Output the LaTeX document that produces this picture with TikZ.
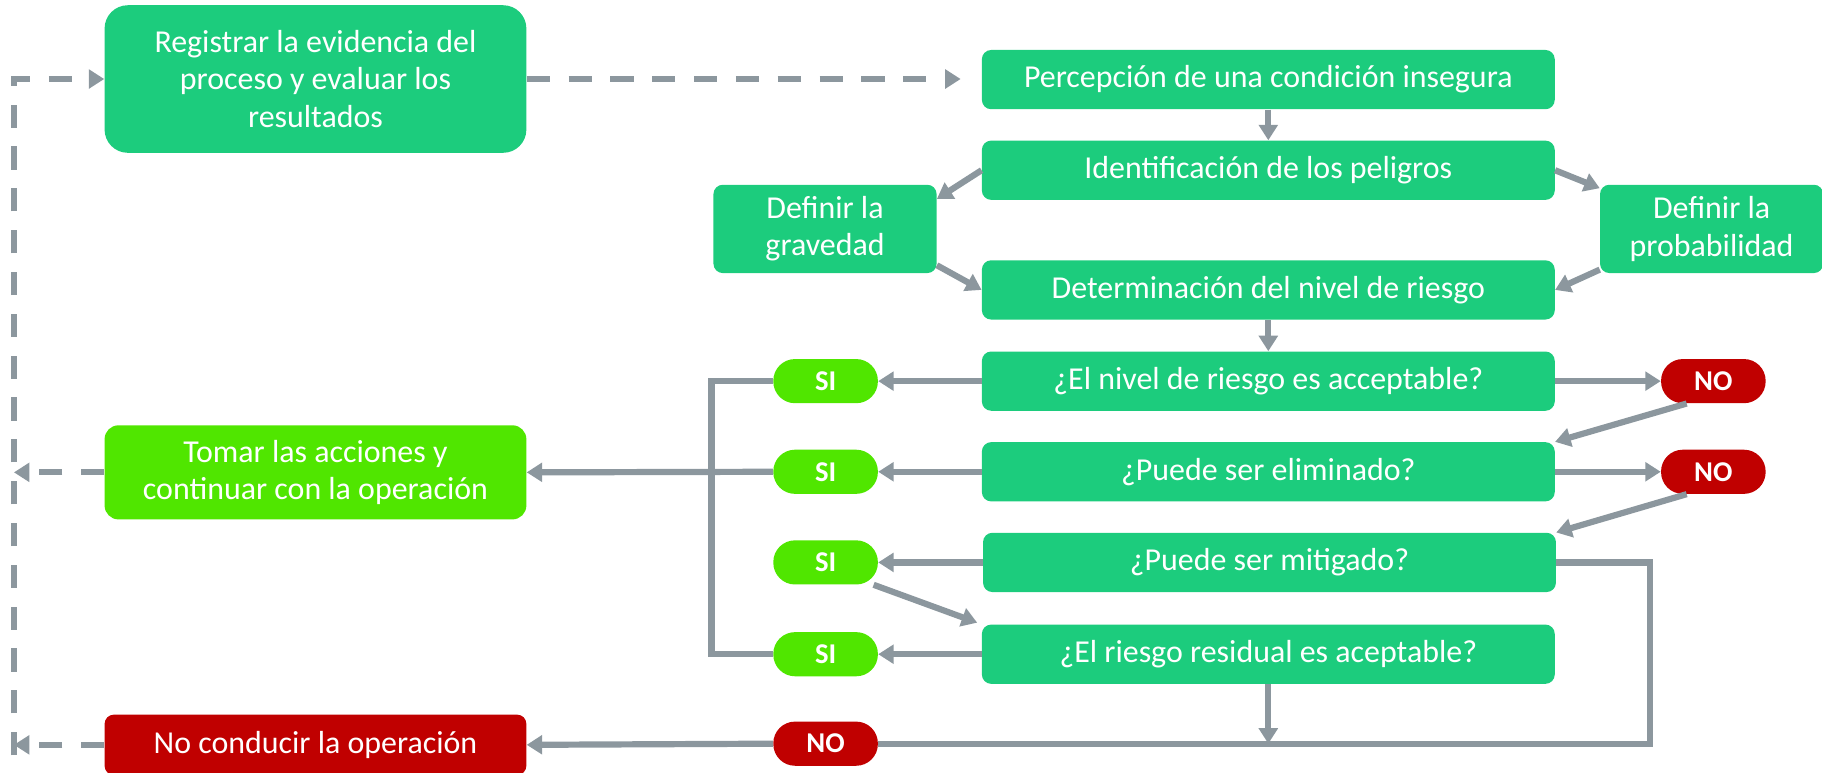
\documentclass[tikz,border=0pt]{standalone}
\usepackage{tikz}
\usepackage{xcolor}
\usepackage{fontspec}
\setmainfont{Carlito}
\usetikzlibrary{arrows.meta}

\begin{document}
\begin{tikzpicture}[x=0.75pt,y=0.75pt,yscale=-1,xscale=1,
  box/.style={fill={rgb,255:red,28;green,204;blue,125}, text=white, inner sep=0pt, align=center,
    rounded corners=6pt, minimum width=369.75pt, minimum height=38.25pt, font=\fontsize{20.6}{24}\selectfont},
  sidebox/.style={box, minimum width=144pt, minimum height=57pt},
  okbox/.style={box, fill={rgb,255:red,80;green,230;blue,0}, minimum width=272.25pt, minimum height=60.75pt, rounded corners=9pt},
  badbox/.style={box, fill={rgb,255:red,192;green,0;blue,0}, minimum width=272.25pt, minimum height=39pt},
  pill/.style={text=white, inner sep=0pt, minimum width=67.5pt, minimum height=28.5pt, rounded corners=14pt,
    font=\fontsize{18.5}{20}\selectfont\bfseries},
  yes/.style={pill, fill={rgb,255:red,80;green,230;blue,0}},
  nope/.style={pill, fill={rgb,255:red,192;green,0;blue,0}},
  link/.style={draw={rgb,255:red,140;green,151;blue,158}, line width=4pt},
  arr/.style={link, -{Triangle[length=10pt,width=12pt]}},
  dashlink/.style={link, dash pattern={on 15pt off 12pt}}
]
\useasboundingbox (0,0) rectangle (1568,665);

% boxes
\node[box, minimum width=272.25pt, minimum height=95.25pt, rounded corners=15pt] (reg) at (271.5,68)
  {Registrar la evidencia del\\proceso y evaluar los\\resultados};
\node[box] (perc) at (1091.5,68.5) {Percepción de una condición insegura};
\node[box] (ident) at (1091.5,146.5) {Identificación de los peligros};
\node[sidebox] (grav) at (710,197) {Definir la\\gravedad};
\node[sidebox] (prob) at (1473,197) {Definir la\\probabilidad};
\node[box] (det) at (1091.5,249.5) {Determinación del nivel de riesgo};
\node[box] (q1) at (1091.5,328) {¿El nivel de riesgo es acceptable?};
\node[box] (q2) at (1091.5,406) {¿Puede ser eliminado?};
\node[box] (q3) at (1092.5,484) {¿Puede ser mitigado?};
\node[box] (q4) at (1091.5,563) {¿El riesgo residual es aceptable?};
\node[okbox] (tomar) at (271.5,406.5) {Tomar las acciones y\\continuar con la operación};
\node[badbox] (noop) at (271.5,641) {No conducir la operación};

% SI / NO
\node[yes] (si1) at (710.5,328) {SI};
\node[yes] (si2) at (710.5,406) {SI};
\node[yes] (si3) at (710.5,484) {SI};
\node[yes] (si4) at (710.5,563) {SI};
\node[nope] (no1) at (1474.5,328) {NO};
\node[nope] (no2) at (1474.5,406) {NO};
\node[nope] (no3) at (710.5,640) {NO};

\coordinate (lt) at (12,68);
\coordinate (lb) at (12,650);
\coordinate (mr) at (1420,484);

% top part
\draw[dashlink, -{Triangle[length=10pt,width=12pt]}, shorten >=13.5pt] (reg.east) -- (perc.west |- reg.east);
\draw[arr] (perc.south) -- (ident.north);
\draw[arr] (ident.west) -- (grav.15);
\draw[arr] (ident.east) -- (prob.160);
\draw[arr] (grav.-18) -- (det.west);
\draw[arr] (prob.200) -- (det.east);
\draw[arr] (det.south) -- (q1.north);

% decisions
\draw[arr] (q1.west) -- (si1.east);
\draw[arr] (q1.east) -- (no1.west);
\draw[arr] (no1.-140) -- (q2.north east);
\draw[arr] (q2.west) -- (si2.east);
\draw[arr] (q2.east) -- (no2.west);
\draw[arr] (no2.-140) -- (q3.north east);
\draw[arr] (q3.west) -- (si3.east);
\draw[arr, shorten >=3pt] (si3.-25) -- (q4.north west);
\draw[arr] (q4.west) -- (si4.east);

% SI branch
\draw[link] (si1.west) -- ++(-53,0) |- (si4.west);
\draw[arr] (si2.west) -- (tomar.east);

% NO branch
\draw[link] (q3.east) -- (mr) |- (no3.east);
\draw[arr] (q4.south) -- (q4.south |- no3.east);
\draw[arr] (no3.west) -- (noop.east);

% return loop
\draw[dashlink, -{Triangle[length=10pt,width=12pt]}] (lb) -- (lt) -- (reg.west);
\draw[dashlink, -{Triangle[length=10pt,width=12pt]}] (tomar.west) -- (tomar.west -| lt);
\draw[dashlink, -{Triangle[length=10pt,width=12pt]}] (noop.west) -- (noop.west -| lt);

\end{tikzpicture}
\end{document}
